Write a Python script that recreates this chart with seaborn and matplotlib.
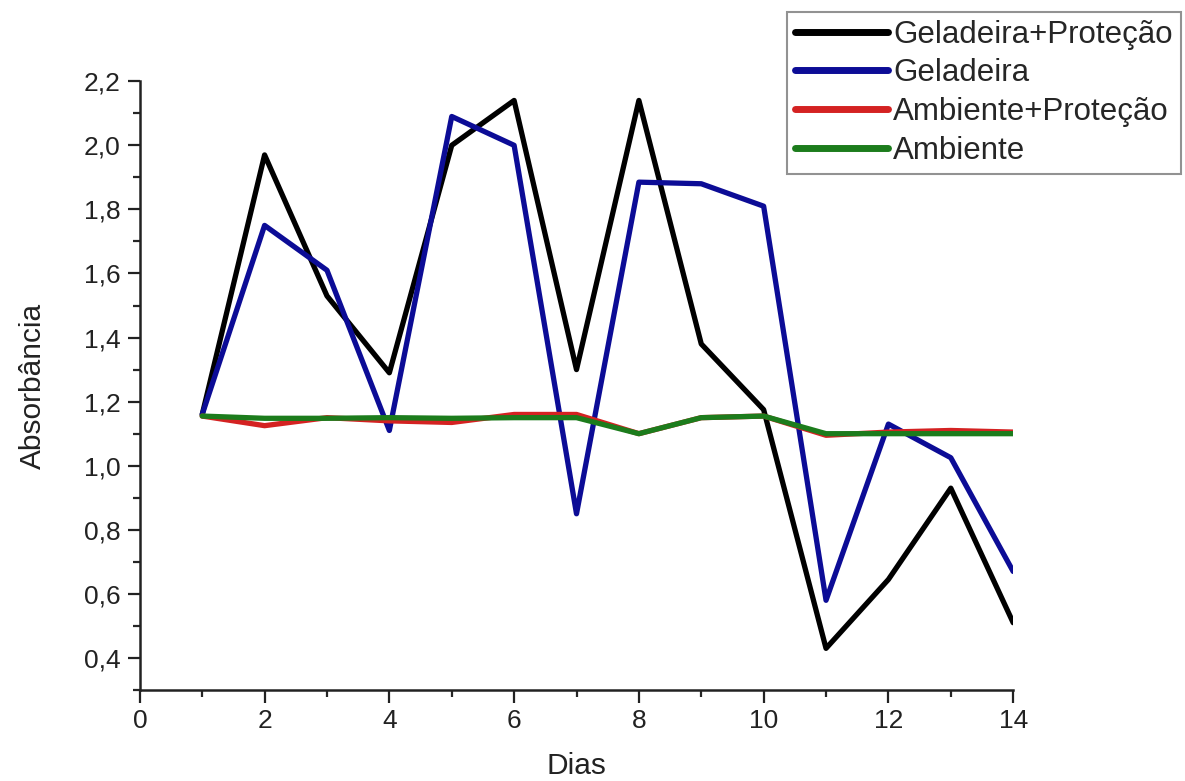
import matplotlib
matplotlib.use("Agg")
import matplotlib.pyplot as plt
from matplotlib.ticker import MultipleLocator, FuncFormatter
import seaborn as sns
import pandas as pd

# data
dias = list(range(1, 15))
geladeira_protecao = [1.16, 1.97, 1.53, 1.29, 2.00, 2.14, 1.30, 2.14, 1.38, 1.175, 0.43, 0.645, 0.93, 0.51]
geladeira = [1.16, 1.75, 1.61, 1.11, 2.09, 2.00, 0.85, 1.885, 1.88, 1.81, 0.58, 1.13, 1.025, 0.67]
ambiente_protecao = [1.155, 1.125, 1.15, 1.14, 1.135, 1.16, 1.16, 1.10, 1.15, 1.155, 1.095, 1.105, 1.11, 1.105]
ambiente = [1.155, 1.148, 1.148, 1.15, 1.148, 1.15, 1.15, 1.10, 1.15, 1.155, 1.10, 1.10, 1.10, 1.10]

series = {
    "Geladeira+Proteção": geladeira_protecao,
    "Geladeira": geladeira,
    "Ambiente+Proteção": ambiente_protecao,
    "Ambiente": ambiente,
}
colors = {
    "Geladeira+Proteção": "#000000",
    "Geladeira": "#0c0c96",
    "Ambiente+Proteção": "#d42222",
    "Ambiente": "#1c7c1c",
}

rows = []
for name, vals in series.items():
    for d, v in zip(dias, vals):
        rows.append({"Dias": d, "Absorbância": v, "Serie": name})
df = pd.DataFrame(rows)

sns.set_style("ticks")
plt.rcParams["font.family"] = ["Liberation Sans", "DejaVu Sans"]

fig = plt.figure(figsize=(11.85, 7.81), dpi=100)
ax = fig.add_axes([0.118, 0.1165, 0.737, 0.7795])

sns.lineplot(data=df, x="Dias", y="Absorbância", hue="Serie",
             hue_order=list(series.keys()), palette=colors,
             linewidth=3.8, ax=ax, legend=False)

ax.set_xlim(0, 14)
ax.set_ylim(0.3, 2.2)
ax.xaxis.set_major_locator(MultipleLocator(2))
ax.xaxis.set_minor_locator(MultipleLocator(1))
ax.yaxis.set_major_locator(MultipleLocator(0.2))
ax.yaxis.set_minor_locator(MultipleLocator(0.1))
ax.yaxis.set_major_formatter(FuncFormatter(lambda v, p: f"{v:.1f}".replace(".", ",")))
ax.tick_params(which="major", direction="out", length=9, width=1.6, labelsize=19,
               colors="#222222", pad=5)
ax.tick_params(which="minor", direction="out", length=5, width=1.6)
for s in ["left", "bottom"]:
    ax.spines[s].set_linewidth(1.8)
    ax.spines[s].set_color("#222222")
sns.despine(ax=ax)

ax.set_xlabel("Dias", fontsize=21.5, labelpad=13, color="#222222")
ax.set_ylabel("Absorbância", fontsize=21.5, labelpad=26, color="#222222")

# legend sits partly outside the axes, top right of the figure
handles = [plt.Line2D([], [], color=colors[k], linewidth=5) for k in series]
leg = fig.legend(handles, list(series.keys()), loc="upper left",
                 bbox_to_anchor=(0.664, 0.985), bbox_transform=fig.transFigure,
                 fontsize=22.5, frameon=True, fancybox=False, borderpad=0.25,
                 labelspacing=0.28, handlelength=3.0, handletextpad=0.15,
                 borderaxespad=0)
leg.get_frame().set_edgecolor("#777777")
leg.get_frame().set_linewidth(1.5)

fig.savefig("out.png", dpi=100)
